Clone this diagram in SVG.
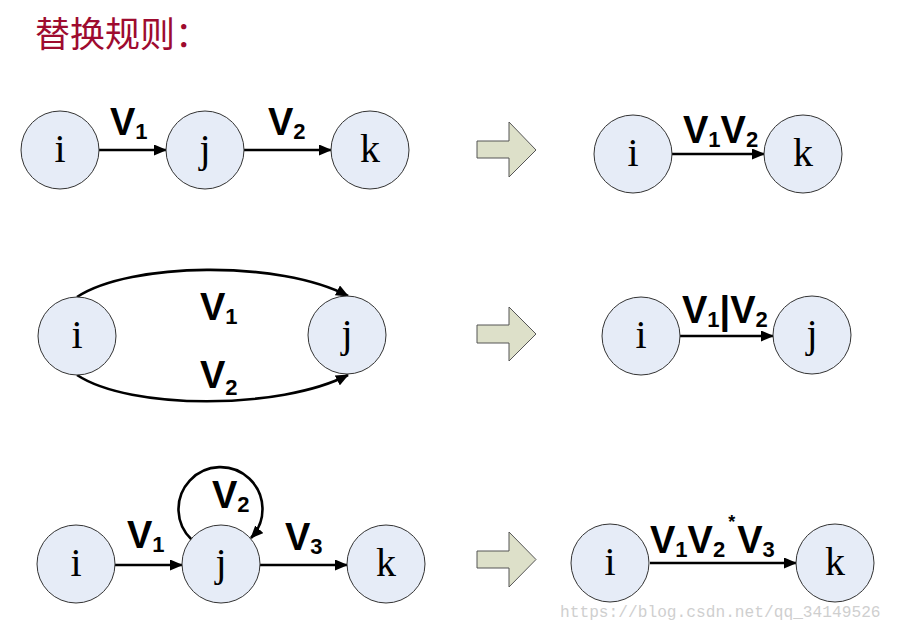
<svg xmlns="http://www.w3.org/2000/svg" width="902" height="629" viewBox="0 0 902 629">
<style>
.node circle{fill:#e6ecf7;stroke:#333;stroke-width:1}
.node text{font-family:"Liberation Serif",serif;font-size:40px;fill:#000;text-anchor:middle}
.edge{stroke:#000;stroke-width:2.6;fill:none;marker-end:url(#ah)}
.lbl{font-family:"Liberation Sans",Arial,sans-serif;font-weight:bold;font-size:38px;fill:#000}
.sub{font-size:22px}
.sup{font-size:18px}
.big{fill:#dde0c9;stroke:#555;stroke-width:1}
</style>
<defs>
<marker id="ah" markerUnits="userSpaceOnUse" markerWidth="13" markerHeight="11" viewBox="0 0 13 11" refX="12" refY="5.5" orient="auto">
<path d="M0,0 L13,5.5 L0,11 z" fill="#000"/>
</marker>
</defs>
<rect width="902" height="629" fill="#fff"/>
<text x="35" y="47" font-family="'Noto Sans CJK SC',sans-serif" font-size="35" fill="#9e0b2f">替换规则：</text>

<g id="connectors">
<line class="edge" x1="99" y1="150" x2="166" y2="150"/>
<line class="edge" x1="244" y1="150" x2="331" y2="150"/>
<line class="edge" x1="672" y1="154" x2="764" y2="154"/>
<path class="edge" d="M77 297 C130 262 280 260 348 296"/>
<path class="edge" d="M77 375 C130 410 280 410 348 375"/>
<line class="edge" x1="680" y1="336" x2="773" y2="336"/>
<line class="edge" x1="115" y1="565" x2="182" y2="565"/>
<line class="edge" x1="260" y1="565" x2="347" y2="565"/>
<path class="edge" d="M192 540 A42 42 0 1 1 251 538"/>
<line class="edge" x1="650" y1="563" x2="796" y2="563"/>
</g>

<g id="labels">
<text class="lbl" x="110" y="135">V<tspan class="sub" y="139">1</tspan></text>
<text class="lbl" x="268" y="135">V<tspan class="sub" y="139">2</tspan></text>
<text class="lbl" x="683" y="143">V<tspan class="sub" y="147">1</tspan><tspan y="143">V</tspan><tspan class="sub" y="147">2</tspan></text>
<text class="lbl" x="200" y="320">V<tspan class="sub" y="324">1</tspan></text>
<text class="lbl" x="200" y="388">V<tspan class="sub" y="395">2</tspan></text>
<text class="lbl" x="682" y="323">V<tspan class="sub" y="327">1</tspan><tspan y="323">|V</tspan><tspan class="sub" y="327">2</tspan></text>
<text class="lbl" x="127" y="548">V<tspan class="sub" y="552">1</tspan></text>
<text class="lbl" x="212" y="508">V<tspan class="sub" y="512">2</tspan></text>
<text class="lbl" x="285" y="550">V<tspan class="sub" y="554">3</tspan></text>
<text class="lbl" x="650" y="553">V<tspan class="sub" y="557">1</tspan><tspan y="553">V</tspan><tspan class="sub" y="557">2</tspan><tspan class="sup" dx="3" y="528">*</tspan><tspan dx="2" y="553">V</tspan><tspan class="sub" y="557">3</tspan></text>
</g>

<g id="arrow1"><polygon class="big" points="477,141 509,141 509,122 536,150 509,177 509,158 477,158"/></g>
<g id="arrow2"><polygon class="big" points="477,325 509,325 509,307 536,334 509,361 509,343 477,343"/></g>
<g id="arrow3"><polygon class="big" points="477,551 509,551 509,532 536,559.5 509,587 509,568 477,568"/></g>

<g id="r1-i" class="node"><circle cx="60" cy="150" r="39"/><text x="60" y="162">i</text></g>
<g id="r1-j" class="node"><circle cx="205" cy="150" r="39"/><text x="205" y="162">j</text></g>
<g id="r1-k" class="node"><circle cx="370" cy="150" r="39"/><text x="370" y="162">k</text></g>
<g id="r1r-i" class="node"><circle cx="633" cy="154" r="39"/><text x="633" y="166">i</text></g>
<g id="r1r-k" class="node"><circle cx="803" cy="154" r="39"/><text x="803" y="166">k</text></g>

<g id="r2-i" class="node"><circle cx="77" cy="336" r="39"/><text x="77" y="348">i</text></g>
<g id="r2-j" class="node"><circle cx="347" cy="335" r="39"/><text x="347" y="347">j</text></g>
<g id="r2r-i" class="node"><circle cx="641" cy="336" r="39"/><text x="641" y="348">i</text></g>
<g id="r2r-j" class="node"><circle cx="812" cy="335" r="39"/><text x="812" y="347">j</text></g>

<g id="r3-i" class="node"><circle cx="76" cy="564" r="39"/><text x="76" y="576">i</text></g>
<g id="r3-j" class="node"><circle cx="221" cy="564" r="39"/><text x="221" y="576">j</text></g>
<g id="r3-k" class="node"><circle cx="386" cy="564" r="39"/><text x="386" y="576">k</text></g>
<g id="r3r-i" class="node"><circle cx="610" cy="563" r="39"/><text x="610" y="575">i</text></g>
<g id="r3r-k" class="node"><circle cx="835" cy="563" r="39"/><text x="835" y="575">k</text></g>

<text x="560" y="617" font-family="'Liberation Mono',monospace" font-size="16.2" fill="#cfcfcf">https://blog.csdn.net/qq_34149526</text>
</svg>
